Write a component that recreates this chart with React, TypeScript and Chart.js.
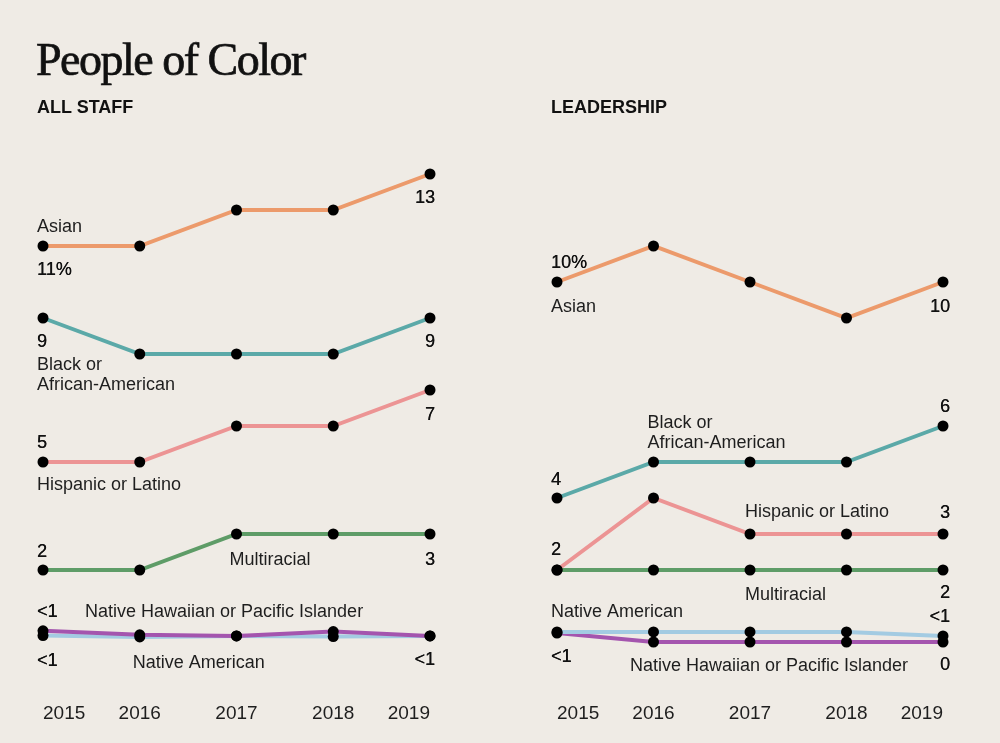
import React, { useEffect, useRef } from 'react';
import { Chart, registerables } from 'chart.js';

Chart.register(...registerables);

// ---------- data ----------
const YEARS = ['2015', '2016', '2017', '2018', '2019'];

const ALL_ASIAN = [11, 11, 12, 12, 13];
const ALL_BLACK = [9, 8, 8, 8, 9];
const ALL_HISPANIC = [5, 5, 6, 6, 7];
const ALL_MULTI = [2, 2, 3, 3, 3];
const ALL_NHPI = [0.31, 0.2, 0.17, 0.29, 0.17];
const ALL_NATIVE = [0.18, 0.14, 0.17, 0.15, 0.17];

const LEAD_ASIAN = [10, 11, 10, 9, 10];
const LEAD_BLACK = [4, 5, 5, 5, 6];
const LEAD_HISPANIC = [2, 4, 3, 3, 3];
const LEAD_MULTI = [2, 2, 2, 2, 2];
const LEAD_NATIVE = [0.28, 0.28, 0.28, 0.28, 0.17];
const LEAD_NHPI = [0.25, 0, 0, 0, 0];

const TITLE = 'People of Color';
const PANEL_TITLES = ['ALL STAFF', 'LEADERSHIP'];
const SERIES_NAMES = {
  asian: 'Asian',
  black: ['Black or', 'African-American'],
  hispanic: 'Hispanic or Latino',
  multi: 'Multiracial',
  native: 'Native American',
  nhpi: 'Native Hawaiian or Pacific Islander',
};

// ---------- styles ----------
const BG = '#efebe5';
const COLORS: Record<string, string> = {
  asian: '#ec9a6b',
  black: '#5ba9a8',
  hispanic: '#ec9494',
  multi: '#5e9c67',
  native: '#a3cbe2',
  nhpi: '#a455ae',
};
const SANS = '"Liberation Sans", Arial, sans-serif';
const SERIF = '"Liberation Serif", "Times New Roman", serif';

const fmt = (v: number, pct = false) =>
  (v === 0 ? '0' : v < 1 ? '<1' : String(v)) + (pct ? '%' : '');

type Ann = {
  key: string;
  i: number;
  text?: string | string[];
  pct?: boolean;
  dx: number;
  dy: number;
  align: CanvasTextAlign;
};

const ALL_ANN: Ann[] = [
  { key: 'asian', i: 0, text: SERIES_NAMES.asian, dx: -6, dy: -14, align: 'left' },
  { key: 'asian', i: 0, pct: true, dx: -6, dy: 29, align: 'left' },
  { key: 'asian', i: 4, dx: 5, dy: 29, align: 'right' },
  { key: 'black', i: 0, dx: -6, dy: 29, align: 'left' },
  { key: 'black', i: 0, text: SERIES_NAMES.black, dx: -6, dy: 52, align: 'left' },
  { key: 'black', i: 4, dx: 5, dy: 29, align: 'right' },
  { key: 'hispanic', i: 4, dx: 5, dy: 30, align: 'right' },
  { key: 'hispanic', i: 0, dx: -6, dy: -14, align: 'left' },
  { key: 'hispanic', i: 0, text: SERIES_NAMES.hispanic, dx: -6, dy: 28, align: 'left' },
  { key: 'multi', i: 0, dx: -6, dy: -13, align: 'left' },
  { key: 'multi', i: 2, text: SERIES_NAMES.multi, dx: -7, dy: 31, align: 'left' },
  { key: 'multi', i: 4, dx: 5, dy: 31, align: 'right' },
  { key: 'nhpi', i: 0, dx: -6, dy: -14, align: 'left' },
  { key: 'nhpi', i: 0, text: SERIES_NAMES.nhpi, dx: 42, dy: -14, align: 'left' },
  { key: 'native', i: 0, dx: -6, dy: 30, align: 'left' },
  { key: 'native', i: 1, text: SERIES_NAMES.native, dx: -7, dy: 31, align: 'left' },
  { key: 'native', i: 4, dx: 5, dy: 29, align: 'right' },
];

const LEAD_ANN: Ann[] = [
  { key: 'asian', i: 0, pct: true, dx: -6, dy: -14, align: 'left' },
  { key: 'asian', i: 0, text: SERIES_NAMES.asian, dx: -6, dy: 30, align: 'left' },
  { key: 'asian', i: 4, dx: 7, dy: 30, align: 'right' },
  { key: 'black', i: 4, dx: 7, dy: -14, align: 'right' },
  { key: 'black', i: 1, text: SERIES_NAMES.black, dx: -6, dy: -34, align: 'left' },
  { key: 'black', i: 0, dx: -6, dy: -13, align: 'left' },
  { key: 'hispanic', i: 2, text: SERIES_NAMES.hispanic, dx: -5, dy: -17, align: 'left' },
  { key: 'hispanic', i: 4, dx: 7, dy: -16, align: 'right' },
  { key: 'multi', i: 0, dx: -6, dy: -15, align: 'left' },
  { key: 'multi', i: 2, text: SERIES_NAMES.multi, dx: -5, dy: 30, align: 'left' },
  { key: 'multi', i: 4, dx: 7, dy: 28, align: 'right' },
  { key: 'native', i: 4, dx: 7, dy: -14, align: 'right' },
  { key: 'native', i: 0, text: SERIES_NAMES.native, dx: -6, dy: -15, align: 'left' },
  { key: 'nhpi', i: 0, dx: -6, dy: 29, align: 'left' },
  { key: 'nhpi', i: 4, text: SERIES_NAMES.nhpi, dx: -35, dy: 29, align: 'right' },
  { key: 'nhpi', i: 4, dx: 7, dy: 28, align: 'right' },
];

type Panel = {
  series: Record<string, number[]>;
  order: string[];
  ann: Ann[];
  padLeft: number;
  padRight: number;
};

const PANELS: Panel[] = [
  {
    series: {
      asian: ALL_ASIAN,
      black: ALL_BLACK,
      hispanic: ALL_HISPANIC,
      multi: ALL_MULTI,
      native: ALL_NATIVE,
      nhpi: ALL_NHPI,
    },
    order: ['nhpi', 'native', 'multi', 'hispanic', 'black', 'asian'],
    ann: ALL_ANN,
    padLeft: 43,
    padRight: 70,
  },
  {
    series: {
      asian: LEAD_ASIAN,
      black: LEAD_BLACK,
      hispanic: LEAD_HISPANIC,
      multi: LEAD_MULTI,
      native: LEAD_NATIVE,
      nhpi: LEAD_NHPI,
    },
    order: ['native', 'nhpi', 'multi', 'hispanic', 'black', 'asian'],
    ann: LEAD_ANN,
    padLeft: 57,
    padRight: 57,
  },
];

function PanelChart({ panel, left }: { panel: Panel; left: number }) {
  const ref = useRef<HTMLCanvasElement | null>(null);
  useEffect(() => {
    if (!ref.current) return;
    const keys = panel.order;
    const lineSets = keys.map((k) => ({
      label: k,
      data: panel.series[k],
      borderColor: COLORS[k],
      borderWidth: 4,
      pointRadius: 0,
      fill: false,
      tension: 0,
      clip: false as any,
      order: 2,
    }));
    const dotSets = keys.map((k) => ({
      label: k + '-dots',
      data: panel.series[k],
      showLine: false,
      borderWidth: 0,
      pointRadius: 5.5,
      pointBackgroundColor: '#000',
      pointBorderWidth: 0,
      clip: false as any,
      order: 1,
    }));

    const annPlugin = {
      id: 'ann',
      afterDatasetsDraw(chart: any) {
        const ctx = chart.ctx as CanvasRenderingContext2D;
        const xs = chart.scales.x;
        const ys = chart.scales.y;
        ctx.save();
        ctx.textBaseline = 'alphabetic';
        for (const a of panel.ann) {
          const v = panel.series[a.key][a.i];
          const px = xs.getPixelForValue(a.i);
          const py = ys.getPixelForValue(v);
          const isName = a.text !== undefined;
          const lines = isName
            ? Array.isArray(a.text)
              ? a.text
              : [a.text as string]
            : [fmt(v, a.pct)];
          ctx.font = `18px ${SANS}`;
          ctx.fillStyle = isName ? '#1e1e1e' : '#111';
          ctx.textAlign = a.align;
          lines.forEach((t, j) => {
            ctx.fillText(t, px + a.dx, py + a.dy + j * 20);
            if (!isName) ctx.fillText(t, px + a.dx + 0.3, py + a.dy + j * 20);
          });
        }
        ctx.restore();
      },
    };

    const chart = new Chart(ref.current, {
      type: 'line',
      data: { labels: YEARS, datasets: [...dotSets, ...lineSets] as any },
      options: {
        animation: false,
        responsive: false,
        maintainAspectRatio: false,
        layout: {
          padding: { left: panel.padLeft, right: panel.padRight, top: 174, bottom: 21 },
        },
        plugins: { legend: { display: false }, tooltip: { enabled: false } },
        scales: {
          x: {
            type: 'category',
            offset: false,
            grid: { display: false, drawTicks: false },
            border: { display: false },
            afterFit: (s: any) => {
              s.height = 80;
              s.paddingLeft = 0;
              s.paddingRight = 0;
            },
            ticks: {
              align: 'inner',
              padding: 60,
              color: '#1e1e1e',
              font: { family: SANS, size: 19 },
              maxRotation: 0,
              autoSkip: false,
            },
          },
          y: { display: false, min: 0, max: 13 },
        },
      } as any,
      plugins: [annPlugin],
    });
    return () => chart.destroy();
  }, [panel]);
  return (
    <canvas
      ref={ref}
      width={500}
      height={743}
      style={{ position: 'absolute', left, top: 0, width: 500, height: 743 }}
    />
  );
}

export default function App() {
  return (
    <div
      style={{
        position: 'fixed',
        left: 0,
        top: 0,
        width: 1000,
        height: 743,
        background: BG,
        overflow: 'hidden',
      }}
    >
      <PanelChart panel={PANELS[0]} left={0} />
      <PanelChart panel={PANELS[1]} left={500} />
      <div
        style={{
          position: 'absolute',
          left: 36,
          top: 37,
          fontFamily: SERIF,
          fontSize: 46,
          lineHeight: 1,
          letterSpacing: -1.5,
          color: '#111',
          whiteSpace: 'nowrap',
          WebkitTextStroke: '0.7px #111',
        }}
      >
        {TITLE}
      </div>
      <div
        style={{
          position: 'absolute',
          left: 37,
          top: 98,
          fontFamily: SANS,
          fontWeight: 700,
          fontSize: 18,
          lineHeight: 1,
          color: '#111',
        }}
      >
        {PANEL_TITLES[0]}
      </div>
      <div
        style={{
          position: 'absolute',
          left: 551,
          top: 98,
          fontFamily: SANS,
          fontWeight: 700,
          fontSize: 18,
          lineHeight: 1,
          color: '#111',
        }}
      >
        {PANEL_TITLES[1]}
      </div>
    </div>
  );
}
